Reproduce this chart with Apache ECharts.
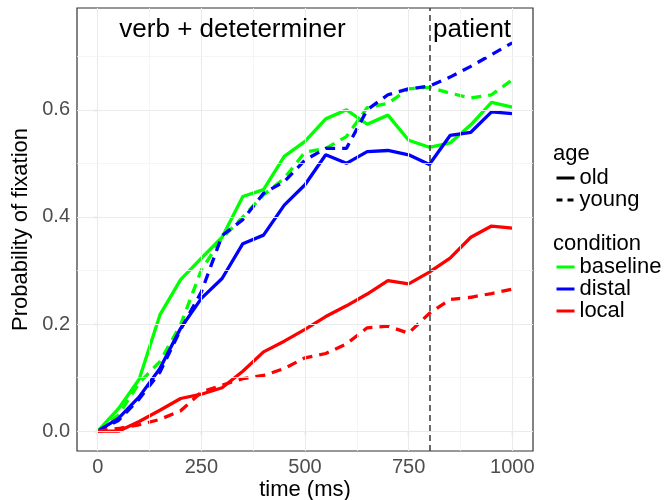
<!DOCTYPE html>
<html>
<head>
<meta charset="utf-8">
<script src="https://cdn.jsdelivr.net/npm/echarts@6/dist/echarts.min.js"></script>
<style>html,body{margin:0;padding:0;background:#fff}#c{width:665px;height:500px}</style>
</head>
<body>
<div id="c"></div>
<script>
const times = [0,50,100,150,200,250,300,350,400,450,500,550,600,650,700,750,800,850,900,950,1000];
const baselineOld   = [0,0.042,0.097,0.217,0.283,0.323,0.362,0.438,0.451,0.513,0.541,0.583,0.600,0.573,0.590,0.543,0.530,0.538,0.572,0.614,0.605];
const baselineYoung = [0,0.030,0.090,0.130,0.199,0.301,0.360,0.400,0.441,0.472,0.521,0.528,0.550,0.604,0.612,0.639,0.642,0.631,0.622,0.628,0.656];
const distalOld     = [0,0.024,0.064,0.117,0.192,0.248,0.285,0.350,0.366,0.422,0.460,0.516,0.500,0.522,0.524,0.516,0.498,0.552,0.558,0.596,0.593];
const distalYoung   = [0,0.020,0.060,0.110,0.190,0.260,0.365,0.395,0.444,0.466,0.506,0.528,0.528,0.600,0.628,0.639,0.644,0.661,0.681,0.703,0.725];
const localOld      = [0,0,0.018,0.039,0.061,0.069,0.081,0.112,0.148,0.168,0.190,0.214,0.234,0.256,0.281,0.275,0.297,0.323,0.362,0.383,0.379];
const localYoung    = [0,0.005,0.012,0.022,0.038,0.073,0.086,0.098,0.104,0.117,0.137,0.145,0.163,0.193,0.196,0.183,0.220,0.246,0.250,0.257,0.265];

const xTicks = [0,250,500,750,1000];
const xMinor = [125,375,625,875];
const yTicks = [0,0.2,0.4,0.6];
const yMinor = [0.1,0.3,0.5,0.7];
const regionBoundary = 800;
const annotations = [{text:'verb + deteterminer', x:325, y:0.75},{text:'patient', x:903, y:0.75}];
const colors = {baseline:'#00FF00', distal:'#0000FF', local:'#FF0000'};

const dash = [10,7];
function mk(name, arr, color, young){
  return {name:name, type:'line', data: times.map((t,i)=>[t,arr[i]]), symbol:'none', showSymbol:false,
    lineStyle:{color:color, width:3.3, type: young?dash:'solid'}, itemStyle:{color:color}, z:3, animation:false, silent:true};
}
const gridLines = [];
xTicks.forEach(v=>gridLines.push({xAxis:v, lineStyle:{color:'#ebebeb', width:1.1, type:'solid'}}));
xMinor.forEach(v=>gridLines.push({xAxis:v, lineStyle:{color:'#f2f2f2', width:0.8, type:'solid'}}));
yTicks.forEach(v=>gridLines.push({yAxis:v, lineStyle:{color:'#ebebeb', width:1.1, type:'solid'}}));
yMinor.forEach(v=>gridLines.push({yAxis:v, lineStyle:{color:'#f2f2f2', width:0.8, type:'solid'}}));

const legendSeries = [
  {name:'old', color:'#000', type:'solid'},
  {name:'young', color:'#000', type:[6,5]},
  {name:'baseline', color:colors.baseline, type:'solid'},
  {name:'distal', color:colors.distal, type:'solid'},
  {name:'local', color:colors.local, type:'solid'}
].map(s=>({name:s.name, type:'line', data:[], symbol:'none', lineStyle:{color:s.color, width:3, type:s.type}, itemStyle:{color:s.color}}));

const font = 'Liberation Sans, Arial, Helvetica, sans-serif';
const legendCommon = {orient:'vertical', left:555, itemWidth:18, itemHeight:10, itemGap:0, padding:0,
  itemStyle:{opacity:0}, lineStyle:{width:3}, textStyle:{fontSize:22, color:'#000', lineHeight:20, fontFamily:font}, selectedMode:false};
const option = {
  animation:false,
  textStyle:{fontFamily:font},
  grid:{left:77, right:132, top:8, bottom:49, show:true, borderColor:'#333333', borderWidth:1.2, backgroundColor:'transparent', containLabel:false, outerBoundsMode:'none'},
  title:[
    {text:'age', left:553, top:143, textStyle:{fontSize:22, fontWeight:'normal', color:'#000', fontFamily:font}, padding:0},
    {text:'condition', left:553, top:233, textStyle:{fontSize:22, fontWeight:'normal', color:'#000', fontFamily:font}, padding:0}
  ],
  legend:[
    Object.assign({data:['old','young'], top:167}, legendCommon),
    Object.assign({data:['baseline','distal','local'], top:256}, legendCommon)
  ],
  xAxis:{type:'value', min:-50, max:1050, name:'time (ms)', nameLocation:'middle', nameGap:28, nameMoveOverlap:false,
    nameTextStyle:{fontSize:22, color:'#000', fontFamily:font},
    axisLine:{show:false}, splitLine:{show:false},
    axisTick:{show:true, customValues:xTicks, length:4, lineStyle:{color:'#333', width:1.1}},
    axisLabel:{customValues:xTicks, fontSize:20, color:'#4d4d4d', margin:6, fontFamily:font, formatter:v=>String(v)}},
  yAxis:{type:'value', min:-0.037, max:0.79, name:'Probability of fixation', nameLocation:'middle', nameGap:45, nameMoveOverlap:false,
    nameTextStyle:{fontSize:22, color:'#000', fontFamily:font},
    axisLine:{show:false}, splitLine:{show:false},
    axisTick:{show:true, customValues:yTicks, length:4, lineStyle:{color:'#333', width:1.1}},
    axisLabel:{customValues:yTicks, fontSize:20, color:'#4d4d4d', margin:7, fontFamily:font, formatter:v=>v.toFixed(1)}},
  series:[
    {name:'grid', type:'line', data:[], z:1, silent:true,
      markLine:{silent:true, symbol:['none','none'], label:{show:false}, animation:false, data:gridLines}},
    mk('baseline old', baselineOld, colors.baseline, false),
    mk('baseline young', baselineYoung, colors.baseline, true),
    mk('distal old', distalOld, colors.distal, false),
    mk('distal young', distalYoung, colors.distal, true),
    mk('local old', localOld, colors.local, false),
    mk('local young', localYoung, colors.local, true),
    {name:'boundary', type:'line', data:[], z:5, silent:true,
      markLine:{silent:true, symbol:['none','none'], label:{show:false}, animation:false,
        data:[{xAxis:regionBoundary, lineStyle:{color:'#444', width:1.6, type:[6,4]}}]},
      markPoint:{silent:true, symbol:'circle', symbolSize:0, animation:false,
        data: annotations.map(a=>({coord:[a.x,a.y], value:a.text,
          label:{show:true, formatter:a.text, fontSize:26, color:'#000', position:'inside', fontFamily:font}}))}}
  ].concat(legendSeries)
};
const chart = echarts.init(document.getElementById('c'), null, {renderer:'canvas'});
chart.setOption(option);
</script>
</body>
</html>
